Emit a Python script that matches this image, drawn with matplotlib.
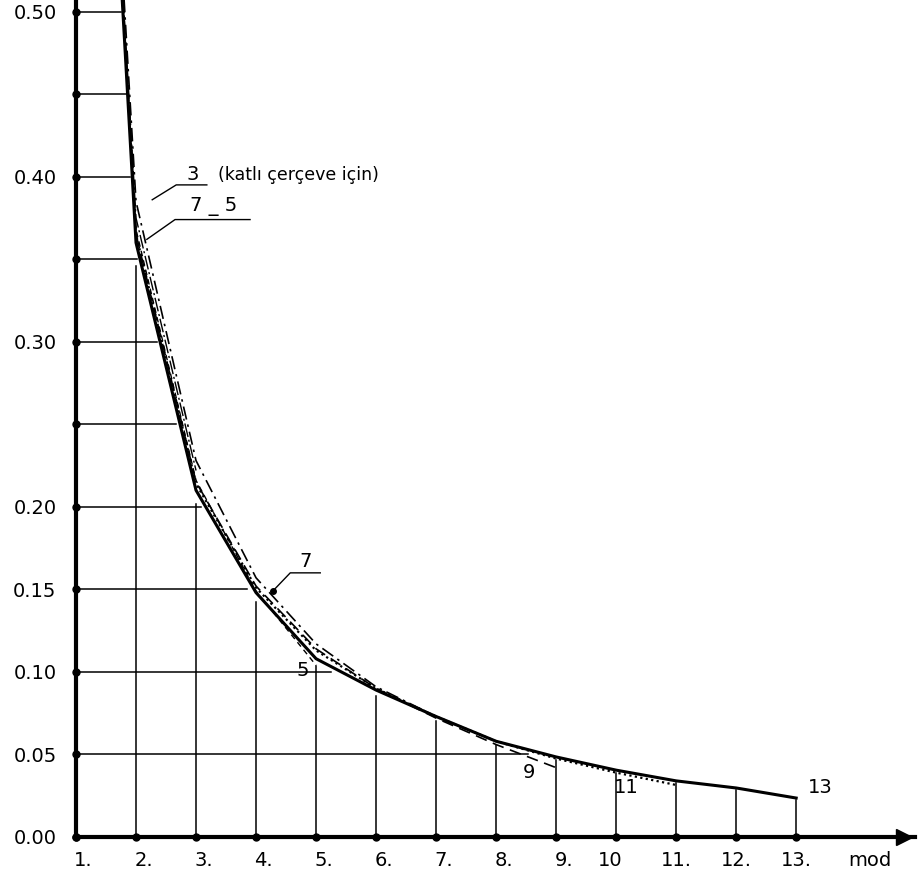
import numpy as np
import matplotlib as mpl
import matplotlib.pyplot as plt

mpl.rcParams['font.family'] = 'DejaVu Sans'
mpl.rcParams['font.size'] = 14.0

# Mode numbers and curve values
modes = np.arange(1, 14)
c13 = [1.00, 0.360, 0.210, 0.148, 0.108, 0.089, 0.073, 0.058, 0.0485, 0.0405, 0.034, 0.0297, 0.0236]
c11 = [1.00, 0.365, 0.214, 0.151, 0.113, 0.090, 0.073, 0.058, 0.0475, 0.039, 0.0315]
c9 = [1.00, 0.365, 0.215, 0.152, 0.114, 0.090, 0.072, 0.056, 0.042]
c7 = [1.00, 0.385, 0.228, 0.157, 0.117, 0.091, 0.073]
c5 = [1.00, 0.368, 0.216, 0.149, 0.104]
c3 = [1.00, 0.375, 0.222]

levels = [0.00, 0.05, 0.10, 0.15, 0.20, 0.25, 0.30, 0.35, 0.40, 0.45, 0.50]
ylabeled = [0.00, 0.05, 0.10, 0.15, 0.20, 0.30, 0.40, 0.50]
ylabels = ["0.00", "0.05", "0.10", "0.15", "0.20", "0.30", "0.40", "0.50"]
xlabels = ["1.", "2.", "3.", "4.", "5.", "6.", "7.", "8.", "9.", "10", "11.", "12.", "13."]

fig = plt.figure(figsize=(9.19, 8.75), dpi=100)
ax = fig.add_axes([76/919, 38/875, 839/919, 837/875])
ax.set_xlim(1, 14.98)
ax.set_ylim(0, 0.507)

# staircase guide lines under the envelope curve
for lev in levels[1:]:
    cross = np.interp(lev, c13[::-1], modes[::-1])
    ax.plot([1, 1 + (cross - 1)*0.96], [lev, lev], color="k", lw=1.1)
for m, v in zip(modes[1:], c13[1:]):
    ax.plot([m, m], [0, v*0.96], color="k", lw=1.1)

# curves
ax.plot(modes, c13, color="k", lw=2.2, solid_joinstyle="miter")
ax.plot(modes[:11], c11, color="k", lw=1.6, ls=(0, (1, 1.5)))
ax.plot(modes[:9], c9, color="k", lw=1.2, ls=(0, (7, 4)))
ax.plot(modes[:7], c7, color="k", lw=1.2, ls=(0, (8, 3, 1.5, 3)))
ax.plot(modes[:5], c5, color="k", lw=1.0, ls=(0, (4, 3)))
ax.plot(modes[:3], c3, color="k", lw=1.0, ls=(0, (10, 2, 1.5, 2)))

# tick dots on the axes
ax.plot(np.ones(len(levels)), levels, "o", color="k", ms=5, clip_on=False, zorder=5)
ax.plot(modes, np.zeros(len(modes)), "o", color="k", ms=5, clip_on=False, zorder=5)

# axes
for s in ["top", "right"]:
    ax.spines[s].set_visible(False)
ax.spines["left"].set_linewidth(3)
ax.spines["bottom"].set_linewidth(3)
ax.plot(14.8, 0, ">", color="k", ms=11, clip_on=False, zorder=6)

ax.set_yticks(ylabeled)
ax.set_yticklabels(ylabels)
ax.set_xticks([])
ax.tick_params(axis="y", length=0, pad=14, labelsize=14)

for m, lab in zip(modes, xlabels):
    if lab == "10":
        ax.text(m - 0.1, -0.0145, lab, ha="center", va="center", fontsize=14)
    elif len(lab) == 2:
        ax.text(m - 0.03, -0.0145, lab, ha="left", va="center", fontsize=14)
    else:
        ax.text(m, -0.0145, lab, ha="center", va="center", fontsize=14)
ax.text(14.23, -0.0145, "mod", ha="center", va="center", fontsize=14)

# labels and leaders
ax.text(2.95, 0.401, "3", ha="center", va="center", fontsize=14)
ax.plot([2.27, 2.67, 3.18], [0.386, 0.395, 0.395], color="k", lw=1.0)
ax.text(3.37, 0.401, "(katlı çerçeve için)", ha="left", va="center", fontsize=12.5)

ax.text(3.3, 0.382, "7 _ 5", ha="center", va="center", fontsize=14)
ax.plot([2.18, 2.65, 3.9], [0.362, 0.374, 0.374], color="k", lw=1.0)

ax.text(4.83, 0.167, "7", ha="center", va="center", fontsize=14)
ax.plot([4.28, 4.57, 5.07], [0.149, 0.160, 0.160], color="k", lw=1.0)
ax.plot(4.28, 0.149, "o", color="k", ms=4)

ax.text(4.77, 0.101, "5", ha="center", va="center", fontsize=14)
ax.text(8.55, 0.039, "9", ha="center", va="center", fontsize=14)
ax.text(10.17, 0.0297, "11", ha="center", va="center", fontsize=14)
ax.text(13.4, 0.0297, "13", ha="center", va="center", fontsize=14)

fig.savefig("out.png", dpi=100)
